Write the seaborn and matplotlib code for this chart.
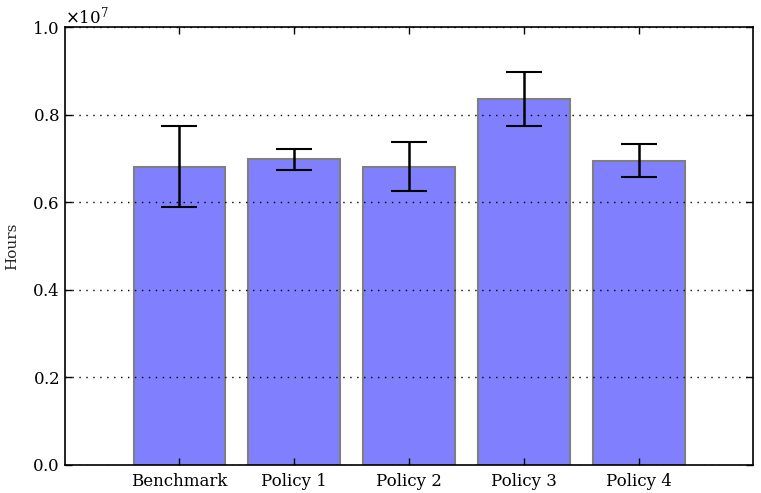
import numpy as np
import pandas as pd
import matplotlib
matplotlib.use("Agg")
import matplotlib.pyplot as plt
import seaborn as sns

# ─── Data ───────────────────────────────────────────────────────────────────────

policies = ["Benchmark", "Policy 1", "Policy 2", "Policy 3", "Policy 4"]
mean_hours = [6.81e6, 6.98e6, 6.81e6, 8.36e6, 6.95e6]
err_hours = [0.93e6, 0.24e6, 0.56e6, 0.62e6, 0.38e6]

df = pd.DataFrame({"policy": policies, "hours": mean_hours})

# ─── Style ─────────────────────────────────────────────────────────────────────

sns.set_style("ticks")
plt.rcParams["font.family"] = ["DejaVu Serif"]
plt.rcParams["font.size"] = 12
plt.rcParams["xtick.direction"] = "in"
plt.rcParams["ytick.direction"] = "in"

fig, ax = plt.subplots(figsize=(7.61, 4.93), dpi=100)

sns.barplot(
    data=df, x="policy", y="hours", ax=ax,
    color="#8080ff", edgecolor="#7f7f7f", linewidth=1.5,
    width=0.8, errorbar=None, saturation=1,
)
ax.errorbar(
    np.arange(len(policies)), mean_hours, yerr=err_hours,
    fmt="none", ecolor="black", elinewidth=1.8, capsize=13, capthick=1.5,
)

ax.set_xlim(-1, 5)
ax.set_ylim(0, 1.0e7)
ax.set_yticks(np.arange(0, 1.01e7, 0.2e7))
ax.ticklabel_format(axis="y", style="sci", scilimits=(0, 0), useMathText=True)
ax.set_xlabel("")
ax.set_ylabel("Hours", fontsize=11, labelpad=9)
# classic look: dotted grid drawn over the bars
ax.yaxis.grid(True, linestyle=(0, (1, 4)), color="black", linewidth=1)
ax.set_axisbelow(False)

for side in ["top", "right", "left", "bottom"]:
    ax.spines[side].set_visible(True)
    ax.spines[side].set_linewidth(1.2)
    ax.spines[side].set_color("black")
ax.tick_params(top=True, right=True, length=5, width=1, colors="black",
               labelsize=12)
ax.tick_params(axis="x", pad=6)

fig.subplots_adjust(left=0.085, right=0.99, top=0.945, bottom=0.057)
fig.savefig("out.png", dpi=100)
